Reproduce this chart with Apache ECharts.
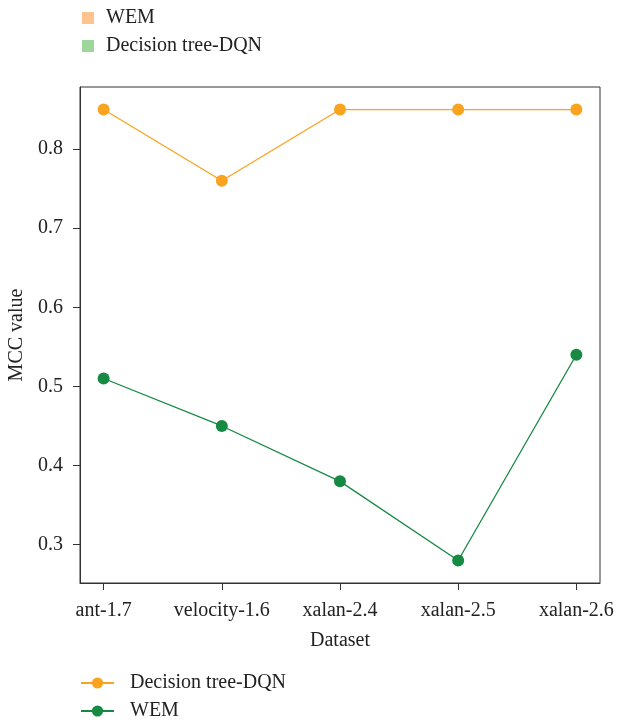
<!DOCTYPE html>
<html>
<head>
<meta charset="utf-8">
<script src="https://cdn.jsdelivr.net/npm/echarts@6/dist/echarts.min.js"></script>
<style>
  html, body { margin: 0; padding: 0; background: #fff; }
  #chart { width: 618px; height: 722px; }
</style>
</head>
<body>
<div id="chart"></div>
<script>
const categories = ['ant-1.7', 'velocity-1.6', 'xalan-2.4', 'xalan-2.5', 'xalan-2.6'];
const dqnValues = [0.85, 0.76, 0.85, 0.85, 0.85];
const wemValues = [0.51, 0.45, 0.38, 0.28, 0.54];
const yTicks = [0.3, 0.4, 0.5, 0.6, 0.7, 0.8];
const xTicks = [0, 1, 2, 3, 4];

const font = '"Liberation Serif", "DejaVu Serif", serif';
const textColor = '#222';
const fontSize = 20;
const orange = '#f9a31f';
const green = '#168a43';

function toPairs(values) {
    return values.map(function (v, i) { return [i, v]; });
}

const chart = echarts.init(document.getElementById('chart'));

chart.setOption({
    animation: false,
    textStyle: { fontFamily: font, color: textColor },
    grid: {
        left: 80,
        right: 18,
        top: 87,
        bottom: 139,
        outerBoundsMode: 'none',
        containLabel: false,
        show: true,
        borderColor: '#333',
        borderWidth: 1
    },
    legend: [{
        orient: 'vertical',
        left: 77,
        top: 3,
        height: 70,
        itemWidth: 12,
        itemHeight: 12,
        itemGap: 8,
        selectedMode: false,
        textStyle: { fontFamily: font, fontSize: fontSize, color: textColor, padding: [0, 0, 0, 7] },
        data: [
            { name: 'WEM', icon: 'rect', itemStyle: { color: '#fec48f' } },
            { name: 'Decision tree-DQN', icon: 'rect', itemStyle: { color: '#9dd59a' } }
        ]
    }, {
        orient: 'vertical',
        left: 75,
        top: 668,
        height: 60,
        itemWidth: 33,
        itemHeight: 14,
        itemGap: 8,
        selectedMode: false,
        textStyle: { fontFamily: font, fontSize: fontSize, color: textColor, padding: [0, 0, 0, 11] },
        data: ['Decision tree-DQN', 'WEM']
    }],
    xAxis: {
        type: 'value',
        min: -0.2,
        max: 4.2,
        name: 'Dataset',
        nameLocation: 'middle',
        nameGap: 48,
        nameTextStyle: { fontFamily: font, fontSize: fontSize, color: textColor },
        axisLine: { show: true, onZero: false, lineStyle: { color: '#333' } },
        axisTick: { show: true, length: 7, customValues: xTicks, lineStyle: { color: '#333' } },
        axisLabel: {
            customValues: xTicks,
            margin: 18,
            fontFamily: font,
            fontSize: fontSize,
            color: textColor,
            formatter: function (v) { return categories[Math.round(v)]; }
        },
        splitLine: { show: false }
    },
    yAxis: {
        type: 'value',
        min: 0.2515,
        max: 0.8785,
        name: 'MCC value',
        nameLocation: 'middle',
        nameGap: 51,
        nameTextStyle: { fontFamily: font, fontSize: fontSize, color: textColor },
        axisLine: { show: true, onZero: false, lineStyle: { color: '#333' } },
        axisTick: { show: true, length: 7, customValues: yTicks, lineStyle: { color: '#333' } },
        axisLabel: {
            customValues: yTicks,
            margin: 17,
            fontFamily: font,
            fontSize: fontSize,
            color: textColor,
            formatter: function (v) { return v.toFixed(1); }
        },
        splitLine: { show: false }
    },
    series: [{
        name: 'Decision tree-DQN',
        type: 'line',
        data: toPairs(dqnValues),
        symbol: 'circle',
        symbolSize: 12,
        color: orange,
        lineStyle: { width: 1.3, color: orange },
        itemStyle: { color: orange }
    }, {
        name: 'WEM',
        type: 'line',
        data: toPairs(wemValues),
        symbol: 'circle',
        symbolSize: 12,
        color: green,
        lineStyle: { width: 1.3, color: green },
        itemStyle: { color: green }
    }]
});
</script>
</body>
</html>
